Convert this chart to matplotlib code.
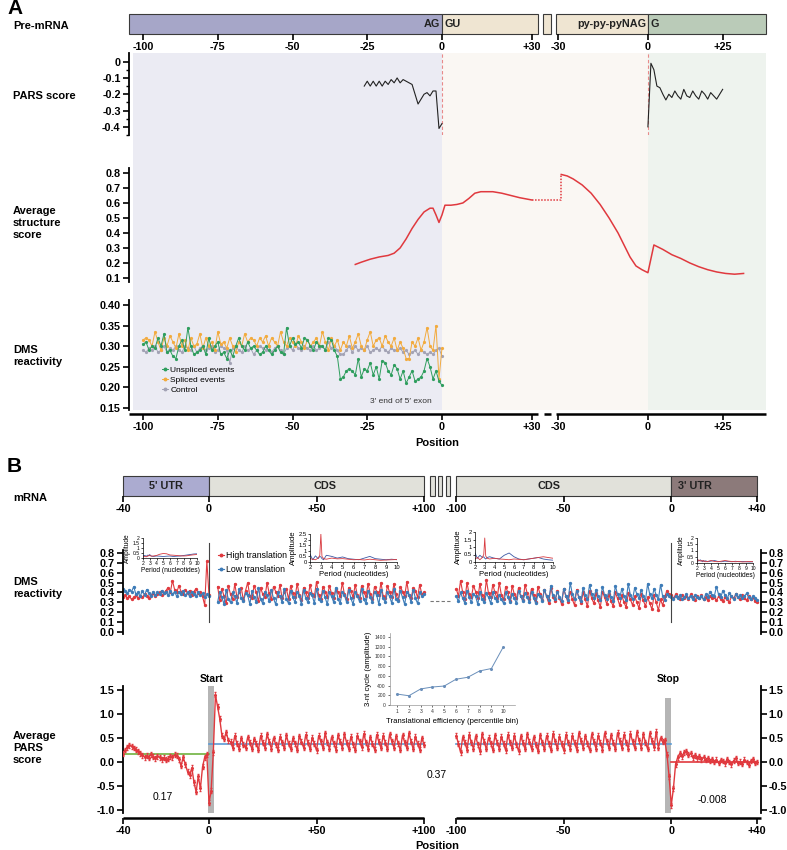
import numpy as np
import matplotlib
matplotlib.use("Agg")
import matplotlib.pyplot as plt
from matplotlib.patches import Rectangle
from matplotlib.lines import Line2D

plt.rcParams['font.family'] = ['Liberation Sans', 'DejaVu Sans']
nan = np.nan

W, H = 787, 850

# ---------------- panel A data ----------------
pars_a_5ss_pos = list(range(-26, 1))
pars_a_5ss = [-0.15, -0.12, -0.15, -0.12, -0.15, -0.12, -0.15, -0.12, -0.14, -0.11,
              -0.13, -0.10, -0.13, -0.11, -0.12, -0.13, -0.14, -0.20, -0.26, -0.23,
              -0.20, -0.19, -0.21, -0.18, -0.18, -0.41, -0.38]
pars_a_3ss_pos = list(range(0, 26))
pars_a_3ss = [-0.40, -0.01, -0.05, -0.15, -0.16, -0.20, -0.235, -0.20, -0.22, -0.18,
              -0.21, -0.23, -0.17, -0.21, -0.22, -0.18, -0.21, -0.23, -0.18, -0.20,
              -0.23, -0.19, -0.21, -0.23, -0.20, -0.17]

struct_5ss_pos = [-29, -27, -24, -21, -18, -16, -14, -12, -10, -8, -6, -4, -3, -2, -1, 0,
                  1, 3, 5, 7, 9, 11, 13, 17, 20, 23, 26, 30]
struct_5ss = [0.19, 0.205, 0.225, 0.24, 0.25, 0.265, 0.30, 0.36, 0.43, 0.49, 0.54, 0.565,
              0.565, 0.52, 0.47, 0.52, 0.585, 0.585, 0.59, 0.60, 0.63, 0.665, 0.675, 0.675,
              0.665, 0.65, 0.635, 0.62]
struct_3ss_pos = [-29, -27, -25, -22, -19, -16, -13, -10, -8, -6, -4, -2, 0,
                  2, 5, 8, 11, 14, 17, 20, 23, 26, 29, 32]
struct_3ss = [0.79, 0.78, 0.76, 0.72, 0.665, 0.59, 0.50, 0.40, 0.32, 0.24, 0.18, 0.155, 0.135,
              0.32, 0.29, 0.255, 0.23, 0.20, 0.175, 0.155, 0.14, 0.13, 0.125, 0.13]

dms_a_pos = list(range(-100, 1))
dms_unspliced = [
    0.305, 0.31, 0.29, 0.30, 0.295, 0.32, 0.30, 0.33, 0.285, 0.29, 0.275, 0.27, 0.30, 0.315, 0.29, 0.345, 0.30, 0.28, 0.285, 0.29,
    0.30, 0.28, 0.32, 0.29, 0.30, 0.31, 0.28, 0.285, 0.27, 0.29, 0.275, 0.30, 0.32, 0.30, 0.29, 0.31, 0.295, 0.30, 0.29, 0.28,
    0.285, 0.30, 0.29, 0.28, 0.29, 0.30, 0.285, 0.28, 0.345, 0.30, 0.32, 0.305, 0.31, 0.295, 0.32, 0.315, 0.30, 0.29, 0.31, 0.30,
    0.30, 0.29, 0.32, 0.315, 0.29, 0.275, 0.22, 0.225, 0.24, 0.245, 0.24, 0.23, 0.27, 0.225, 0.245, 0.24, 0.26, 0.23, 0.25, 0.22,
    0.265, 0.26, 0.24, 0.23, 0.255, 0.245, 0.22, 0.24, 0.21, 0.225, 0.24, 0.215, 0.22, 0.225, 0.24, 0.27, 0.25, 0.22, 0.24, 0.215,
    0.205]
dms_spliced = [
    0.315, 0.32, 0.315, 0.30, 0.335, 0.31, 0.29, 0.32, 0.30, 0.325, 0.31, 0.295, 0.33, 0.30, 0.315, 0.29, 0.32, 0.30, 0.305, 0.33,
    0.295, 0.32, 0.30, 0.31, 0.29, 0.335, 0.305, 0.31, 0.295, 0.32, 0.30, 0.285, 0.31, 0.30, 0.33, 0.31, 0.32, 0.315, 0.30, 0.32,
    0.31, 0.325, 0.30, 0.32, 0.31, 0.30, 0.335, 0.31, 0.30, 0.32, 0.31, 0.30, 0.325, 0.31, 0.295, 0.315, 0.30, 0.31, 0.32, 0.30,
    0.335, 0.31, 0.29, 0.32, 0.30, 0.315, 0.29, 0.31, 0.30, 0.325, 0.295, 0.31, 0.33, 0.30, 0.29, 0.315, 0.335, 0.30, 0.315, 0.32,
    0.30, 0.325, 0.31, 0.30, 0.32, 0.29, 0.31, 0.295, 0.27, 0.27, 0.31, 0.30, 0.32, 0.29, 0.31, 0.345, 0.30, 0.29, 0.35, 0.22,
    0.295]
dms_control = [
    0.29, 0.285, 0.295, 0.29, 0.30, 0.285, 0.29, 0.30, 0.285, 0.295, 0.29, 0.30, 0.29, 0.285, 0.30, 0.295, 0.29, 0.30, 0.285, 0.295,
    0.30, 0.29, 0.295, 0.30, 0.285, 0.29, 0.30, 0.295, 0.29, 0.26, 0.295, 0.30, 0.29, 0.285, 0.30, 0.29, 0.295, 0.28, 0.29, 0.30,
    0.295, 0.29, 0.30, 0.285, 0.295, 0.30, 0.29, 0.28, 0.295, 0.30, 0.29, 0.305, 0.295, 0.29, 0.30, 0.295, 0.29, 0.30, 0.29, 0.295,
    0.30, 0.29, 0.31, 0.295, 0.30, 0.29, 0.28, 0.28, 0.29, 0.30, 0.285, 0.30, 0.29, 0.295, 0.29, 0.30, 0.285, 0.29, 0.295, 0.29,
    0.30, 0.29, 0.285, 0.295, 0.29, 0.29, 0.295, 0.285, 0.29, 0.28, 0.285, 0.29, 0.28, 0.29, 0.285, 0.28, 0.285, 0.28, 0.29, 0.295,
    0.275]

# ---------------- panel B data ----------------
b_start_pos = list(range(-40, 101))
b_stop_pos = list(range(-100, 41))
dms_hi_start = [
    0.35, 0.37, 0.34, 0.36, 0.33, 0.35, 0.37, 0.34, 0.36, 0.35, 0.38, 0.36, 0.34, 0.37, 0.39, 0.36, 0.38, 0.40, 0.37, 0.39,
    0.42, 0.45, 0.40, 0.52, 0.43, 0.40, 0.47, 0.41, 0.38, 0.43, 0.39, 0.42, 0.37, 0.41, 0.44, 0.39, 0.40, 0.36, 0.27, 0.72,
    0.37, nan, nan, nan, 0.46, 0.32, 0.44, 0.36, 0.29, 0.47, 0.38, 0.33, 0.49, 0.35, 0.40, 0.45, 0.32, 0.42, 0.50, 0.36,
    0.34, 0.47, 0.40, 0.31, 0.45, 0.38, 0.35, 0.50, 0.39, 0.33, 0.46, 0.41, 0.36, 0.48, 0.34, 0.40, 0.44, 0.33, 0.47, 0.39,
    0.35, 0.49, 0.37, 0.32, 0.45, 0.40, 0.34, 0.48, 0.38, 0.36, 0.51, 0.37, 0.33, 0.46, 0.41, 0.35, 0.47, 0.39, 0.34, 0.44,
    0.40, 0.36, 0.50, 0.38, 0.33, 0.45, 0.42, 0.35, 0.48, 0.37, 0.34, 0.47, 0.40, 0.36, 0.49, 0.38, 0.33, 0.46, 0.41, 0.37,
    0.50, 0.36, 0.34, 0.47, 0.40, 0.35, 0.49, 0.38, 0.32, 0.46, 0.41, 0.36, 0.51, 0.37, 0.34, 0.45, 0.42, 0.35, 0.48, 0.38,
    0.40]
dms_lo_start = [
    0.44, 0.42, 0.39, 0.43, 0.41, 0.46, 0.38, 0.40, 0.36, 0.42, 0.37, 0.43, 0.39, 0.36, 0.41, 0.37, 0.40, 0.38, 0.42, 0.39,
    0.40, 0.37, 0.42, 0.38, 0.41, 0.36, 0.40, 0.38, 0.42, 0.37, 0.40, 0.36, 0.41, 0.38, 0.36, 0.40, 0.37, 0.39, 0.35, 0.38,
    0.36, nan, nan, nan, 0.30, 0.41, 0.35, 0.28, 0.43, 0.33, 0.30, 0.40, 0.36, 0.29, 0.44, 0.34, 0.31, 0.39, 0.37, 0.28,
    0.42, 0.35, 0.30, 0.45, 0.33, 0.29, 0.41, 0.37, 0.31, 0.43, 0.34, 0.28, 0.40, 0.36, 0.30, 0.44, 0.33, 0.29, 0.42, 0.35,
    0.30, 0.41, 0.36, 0.28, 0.43, 0.34, 0.30, 0.39, 0.37, 0.29, 0.44, 0.33, 0.31, 0.42, 0.35, 0.28, 0.40, 0.36, 0.30, 0.45,
    0.33, 0.29, 0.41, 0.37, 0.30, 0.43, 0.34, 0.28, 0.40, 0.36, 0.31, 0.44, 0.33, 0.29, 0.42, 0.35, 0.30, 0.41, 0.37, 0.28,
    0.43, 0.34, 0.30, 0.40, 0.36, 0.29, 0.44, 0.33, 0.31, 0.42, 0.35, 0.28, 0.41, 0.37, 0.30, 0.43, 0.34, 0.29, 0.40, 0.36,
    0.38]
dms_hi_stop = [
    0.44, 0.36, 0.52, 0.40, 0.33, 0.50, 0.38, 0.35, 0.47, 0.41, 0.34, 0.49, 0.37, 0.33, 0.53, 0.39, 0.35, 0.48, 0.40, 0.34,
    0.50, 0.37, 0.33, 0.46, 0.40, 0.31, 0.47, 0.38, 0.34, 0.45, 0.36, 0.32, 0.48, 0.39, 0.33, 0.44, 0.37, 0.30, 0.46, 0.38,
    0.32, 0.43, 0.36, 0.29, 0.45, 0.35, 0.31, 0.42, 0.34, 0.28, 0.44, 0.36, 0.30, 0.41, 0.33, 0.27, 0.43, 0.35, 0.29, 0.40,
    0.33, 0.26, 0.42, 0.34, 0.29, 0.39, 0.32, 0.25, 0.41, 0.35, 0.28, 0.38, 0.31, 0.26, 0.40, 0.34, 0.27, 0.37, 0.30, 0.25,
    0.39, 0.33, 0.27, 0.36, 0.30, 0.24, 0.38, 0.32, 0.26, 0.35, 0.29, 0.23, 0.37, 0.30, 0.22, 0.33, 0.27, 0.36, 0.42, 0.38,
    0.37, 0.34, 0.38, 0.35, 0.33, 0.37, 0.34, 0.36, 0.33, 0.38, 0.35, 0.32, 0.36, 0.34, 0.37, 0.33, 0.35, 0.32, 0.36, 0.34,
    0.35, 0.32, 0.36, 0.33, 0.31, 0.35, 0.33, 0.30, 0.36, 0.34, 0.38, 0.35, 0.33, 0.37, 0.34, 0.32, 0.36, 0.33, 0.35, 0.31,
    0.30]
dms_lo_stop = [
    0.36, 0.31, 0.40, 0.34, 0.29, 0.42, 0.35, 0.30, 0.38, 0.36, 0.28, 0.41, 0.33, 0.30, 0.39, 0.35, 0.29, 0.40, 0.34, 0.31,
    0.37, 0.33, 0.29, 0.40, 0.35, 0.30, 0.38, 0.34, 0.29, 0.42, 0.36, 0.31, 0.39, 0.35, 0.30, 0.41, 0.34, 0.29, 0.38, 0.36,
    0.31, 0.43, 0.36, 0.32, 0.47, 0.37, 0.33, 0.41, 0.35, 0.31, 0.44, 0.36, 0.32, 0.50, 0.38, 0.33, 0.42, 0.35, 0.31, 0.45,
    0.37, 0.33, 0.48, 0.38, 0.34, 0.43, 0.36, 0.32, 0.46, 0.37, 0.33, 0.42, 0.35, 0.31, 0.47, 0.38, 0.34, 0.44, 0.36, 0.32,
    0.49, 0.37, 0.33, 0.45, 0.38, 0.34, 0.43, 0.36, 0.32, 0.49, 0.38, 0.34, 0.44, 0.37, 0.33, 0.48, 0.36, 0.32, 0.38, 0.36,
    0.35, 0.33, 0.36, 0.34, 0.37, 0.33, 0.35, 0.38, 0.34, 0.36, 0.33, 0.37, 0.35, 0.34, 0.36, 0.33, 0.38, 0.35, 0.41, 0.37,
    0.36, 0.46, 0.38, 0.35, 0.42, 0.37, 0.34, 0.39, 0.36, 0.33, 0.38, 0.35, 0.37, 0.34, 0.36, 0.39, 0.35, 0.33, 0.36, 0.34,
    0.32]
dms_gap_level = 0.31

pars_start = [
    0.17, 0.25, 0.31, 0.35, 0.33, 0.29, 0.26, 0.22, 0.18, 0.14, 0.10, 0.13, 0.09, 0.16, 0.11, 0.08, 0.12, 0.10, 0.06, 0.09,
    0.05, 0.07, 0.12, 0.10, 0.15, 0.13, 0.06, -0.08, 0.10, -0.05, -0.20, -0.28, -0.12, -0.42, -0.62, -0.30, -0.55, -0.10, 0.10, 0.16,
    -0.85, -0.60, 0.20, 1.40, 1.15, 0.90, 0.55, 0.48, 0.62, 0.45, 0.42, 0.30, 0.55, 0.38, 0.28, 0.50, 0.36, 0.30, 0.52, 0.40,
    0.27, 0.48, 0.38, 0.25, 0.55, 0.40, 0.30, 0.58, 0.42, 0.28, 0.50, 0.37, 0.26, 0.53, 0.41, 0.29, 0.56, 0.38, 0.27, 0.49,
    0.39, 0.25, 0.54, 0.42, 0.30, 0.57, 0.40, 0.27, 0.51, 0.38, 0.24, 0.55, 0.43, 0.29, 0.60, 0.41, 0.28, 0.52, 0.39, 0.26,
    0.56, 0.42, 0.30, 0.58, 0.40, 0.27, 0.53, 0.37, 0.25, 0.55, 0.43, 0.31, 0.59, 0.41, 0.28, 0.52, 0.38, 0.26, 0.57, 0.42,
    0.29, 0.55, 0.40, 0.27, 0.58, 0.43, 0.30, 0.54, 0.39, 0.25, 0.56, 0.41, 0.29, 0.60, 0.42, 0.27, 0.53, 0.38, 0.26, 0.50,
    0.36]
pars_stop = [
    0.55, 0.38, 0.20, 0.52, 0.40, 0.26, 0.57, 0.41, 0.28, 0.54, 0.37, 0.22, 0.58, 0.42, 0.27, 0.51, 0.39, 0.25, 0.56, 0.40,
    0.28, 0.53, 0.38, 0.24, 0.57, 0.41, 0.29, 0.55, 0.37, 0.22, 0.54, 0.40, 0.27, 0.58, 0.42, 0.28, 0.52, 0.36, 0.23, 0.56,
    0.41, 0.27, 0.55, 0.39, 0.25, 0.59, 0.43, 0.29, 0.53, 0.38, 0.24, 0.57, 0.41, 0.28, 0.55, 0.40, 0.26, 0.60, 0.44, 0.30,
    0.54, 0.39, 0.25, 0.58, 0.42, 0.28, 0.55, 0.40, 0.26, 0.60, 0.43, 0.29, 0.56, 0.40, 0.27, 0.61, 0.44, 0.30, 0.57, 0.41,
    0.28, 0.59, 0.43, 0.29, 0.62, 0.45, 0.30, 0.58, 0.41, 0.27, 0.60, 0.44, 0.31, 0.63, 0.30, 0.50, 0.42, 0.45, 0.15, -0.30,
    -0.90, -0.55, -0.05, 0.10, 0.18, 0.12, 0.20, 0.22, 0.15, 0.18, 0.10, 0.14, 0.08, 0.12, 0.06, 0.10, 0.04, 0.08, 0.02, 0.06,
    0.00, 0.05, -0.02, 0.04, 0.02, -0.03, 0.06, 0.00, -0.05, 0.03, 0.08, -0.02, 0.01, -0.04, 0.05, 0.00, -0.06, 0.02, 0.06, -0.02,
    0.00]
pars_err = 0.05
mean_5utr, mean_cds, mean_3utr = 0.17, 0.37, -0.008

# amplitude spectra insets (period in nt)
periods = [2.0, 2.25, 2.5, 2.75, 2.9, 3.0, 3.1, 3.25, 3.5, 4.0, 4.5, 5.0, 5.5, 6.0, 6.5, 7.0, 7.5, 8.0, 8.5, 9.0, 9.5, 10.0]
amp_5utr_hi = [0.10, 0.15, 0.12, 0.20, 0.25, 0.28, 0.22, 0.18, 0.20, 0.25, 0.38, 0.45, 0.42, 0.30, 0.28, 0.25, 0.22, 0.20, 0.22, 0.28, 0.32, 0.35]
amp_5utr_lo = [0.20, 0.25, 0.18, 0.30, 0.22, 0.35, 0.25, 0.20, 0.15, 0.20, 0.18, 0.15, 0.18, 0.20, 0.15, 0.18, 0.20, 0.25, 0.30, 0.35, 0.40, 0.42]
amp_cds1_hi = [0.30, 0.25, 0.20, 0.35, 0.60, 2.50, 0.50, 0.30, 0.25, 0.35, 0.28, 0.30, 0.25, 0.20, 0.22, 0.18, 0.25, 0.20, 0.15, 0.18, 0.20, 0.22]
amp_cds1_lo = [0.70, 0.20, 0.55, 0.30, 0.50, 0.45, 0.30, 0.20, 0.60, 0.50, 0.35, 0.45, 0.30, 0.25, 0.20, 0.35, 0.50, 0.30, 0.25, 0.20, 0.25, 0.20]
amp_cds2_hi = [0.20, 0.30, 0.15, 0.30, 0.50, 1.60, 0.40, 0.25, 0.20, 0.25, 0.20, 0.18, 0.15, 0.20, 0.18, 0.15, 0.20, 0.25, 0.30, 0.35, 0.30, 0.25]
amp_cds2_lo = [0.60, 0.25, 0.45, 0.30, 0.35, 0.25, 0.20, 0.30, 0.35, 0.25, 0.20, 0.45, 0.60, 0.35, 0.20, 0.15, 0.20, 0.25, 0.30, 0.20, 0.15, 0.12]
amp_3utr_hi = [0.10, 0.25, 0.15, 0.20, 0.12, 0.18, 0.15, 0.10, 0.12, 0.20, 0.12, 0.10, 0.15, 0.20, 0.15, 0.12, 0.10, 0.12, 0.08, 0.10, 0.12, 0.10]
amp_3utr_lo = [0.30, 0.15, 0.25, 0.10, 0.20, 0.15, 0.12, 0.18, 0.10, 0.15, 0.20, 0.12, 0.10, 0.15, 0.12, 0.10, 0.14, 0.10, 0.12, 0.10, 0.08, 0.10]

te_bins = list(range(1, 11))
cycle_amp = [225, 190, 330, 370, 390, 530, 570, 700, 750, 1190]

# ---------------- layout helpers ----------------
RED = '#e0393e'
BLUE = '#3e7cb8'
fig = plt.figure(figsize=(W / 100, H / 100), dpi=100)


def add_ax(x0, y0, x1, y1):
    return fig.add_axes([x0 / W, 1 - y1 / H, (x1 - x0) / W, (y1 - y0) / H])


def row_label(y, text):
    fig.text(13 / W, 1 - y / H, text, fontsize=8, fontweight='bold', va='center', ha='left', linespacing=1.25)


def style_y(ax, ticks, labels, right=False):
    ax.set_facecolor('none')
    for s in ['top', 'bottom', 'right', 'left']:
        ax.spines[s].set_visible(False)
    ax.spines['left'].set_visible(True)
    ax.spines['left'].set_linewidth(1.3)
    if right:
        ax.spines['right'].set_visible(True)
        ax.spines['right'].set_linewidth(1.3)
    ax.set_xticks([])
    ax.set_yticks(ticks)
    ax.set_yticklabels(labels, fontweight='bold', fontsize=7.8)
    ax.tick_params(axis='y', length=4, width=1.2, pad=2, right=right, labelright=right)


def draw_bar(ax, lim, segs, texts, ticks, labels):
    ax.set_xlim(lim)
    ax.set_ylim(0, 1)
    for s in ax.spines.values():
        s.set_visible(False)
    ax.set_yticks([])
    for u0, u1, col in segs:
        ax.add_patch(Rectangle((u0, 0), u1 - u0, 1, facecolor=col, edgecolor='#3a3a3a', lw=0.8, clip_on=False))
    for u, txt, ha in texts:
        ax.text(u, 0.5, txt, ha=ha, va='center', fontsize=7.8, fontweight='bold', color='#222222')
    ax.set_xticks(ticks)
    ax.set_xticklabels(labels, fontweight='bold', fontsize=7.8)
    ax.tick_params(axis='x', length=4, width=1.2, pad=2)


def broken_axis(ax, lim, segs, ticks, labels):
    ax.set_xlim(lim)
    ax.set_ylim(0, 1)
    ax.patch.set_visible(False)
    for s in ax.spines.values():
        s.set_visible(False)
    ax.set_yticks([])
    for a, b in segs:
        ax.plot([a, b], [0, 0], color='black', lw=1.8, clip_on=False, solid_capstyle='butt')
    ax.set_xticks(ticks)
    ax.set_xticklabels(labels, fontweight='bold', fontsize=7.8)
    ax.tick_params(axis='x', length=4, width=1.2, pad=2)


# ================= PANEL A =================
A_LIM = (-104.7, 108.4)   # track units, 0 = 5' splice site
A_OFF = 68.9              # shift of the 3' splice-site segment
A_X = (129, 766)
fig.text(7 / W, 1 - 8 / H, 'A', fontsize=15, fontweight='bold', va='center')

a_ticks = [-100, -75, -50, -25, 0, 30, -30 + A_OFF, A_OFF, 25 + A_OFF]
a_labels = ['-100', '-75', '-50', '-25', '0', '+30', '-30', '0', '+25']

ax_bar = add_ax(A_X[0], 14, A_X[1], 34)
draw_bar(ax_bar, A_LIM,
         [(A_LIM[0], 0, '#a6a6c8'), (0, 32, '#efe5d2'), (33.8, 36.5, '#efe5d2'),
          (38.1, A_OFF, '#efe5d2'), (A_OFF, A_LIM[1], '#bacbb8')],
         [(-0.6, 'AG', 'right'), (0.8, 'GU', 'left'), (A_OFF - 0.6, 'py-py-pyNAG', 'right'), (A_OFF + 0.8, 'G', 'left')],
         a_ticks, a_labels)
row_label(26, 'Pre-mRNA')

ax_bg = add_ax(A_X[0], 53, A_X[1], 410)
ax_bg.set_xlim(A_LIM)
ax_bg.axis('off')
ax_bg.axvspan(-103.3, 0, color='#ebebf3', lw=0)
ax_bg.axvspan(0, A_OFF, color='#faf7f3', lw=0)
ax_bg.axvspan(A_OFF, A_LIM[1], color='#eef3ee', lw=0)

# PARS score
ax_p = add_ax(A_X[0], 53, A_X[1], 135)
ax_p.set_xlim(A_LIM)
ax_p.set_ylim(-0.43, 0.053)
style_y(ax_p, [0, -0.1, -0.2, -0.3, -0.4], ['0', '-0.1', '-0.2', '-0.3', '-0.4'])
ax_p.set_yticks(np.arange(-0.45, 0.05, 0.05), minor=True)
ax_p.tick_params(axis='y', which='minor', length=2.5, width=1)
ax_p.axvline(0, color='#e88a8a', ls=(0, (3, 2)), lw=0.8)
ax_p.axvline(A_OFF, color='#e88a8a', ls=(0, (3, 2)), lw=0.8)
ax_p.plot(pars_a_5ss_pos, pars_a_5ss, color='#222222', lw=0.8)
ax_p.plot(np.array(pars_a_3ss_pos) + A_OFF, pars_a_3ss, color='#222222', lw=0.8)
row_label(96, 'PARS score')

# average structure score
ax_s = add_ax(A_X[0], 168, A_X[1], 282)
ax_s.set_xlim(A_LIM)
ax_s.set_ylim(0.073, 0.833)
style_y(ax_s, [0.1, 0.2, 0.3, 0.4, 0.5, 0.6, 0.7, 0.8], ['0.1', '0.2', '0.3', '0.4', '0.5', '0.6', '0.7', '0.8'])
u_3ss = np.array(struct_3ss_pos) + A_OFF
ax_s.plot(struct_5ss_pos, struct_5ss, color=RED, lw=1.1)
ax_s.plot(u_3ss, struct_3ss, color=RED, lw=1.1)
ax_s.plot([struct_5ss_pos[-1], u_3ss[0], u_3ss[0]], [struct_5ss[-1], struct_5ss[-1], struct_3ss[0]],
          color=RED, lw=1.1, ls=(0, (1, 1)))
row_label(223, 'Average\nstructure\nscore')

# DMS reactivity
ax_d = add_ax(A_X[0], 300, A_X[1], 410)
ax_d.set_xlim(A_LIM)
ax_d.set_ylim(0.145, 0.412)
style_y(ax_d, [0.15, 0.20, 0.25, 0.30, 0.35, 0.40], ['0.15', '0.20', '0.25', '0.30', '0.35', '0.40'])
ax_d.plot(dms_a_pos, dms_control, color='#a3a3b5', lw=0.7, marker='o', ms=1.3)
ax_d.plot(dms_a_pos, dms_spliced, color='#f2ab3e', lw=0.7, marker='o', ms=1.3)
ax_d.plot(dms_a_pos, dms_unspliced, color='#2f9e5e', lw=0.7, marker='o', ms=1.3)
ax_d.text(-3.5, 0.165, '3\u2032 end of 5\u2032 exon', fontsize=6, ha='right', va='center', color='#333333')
hA = [Line2D([], [], color=c, marker='o', ms=1.8, lw=0.7) for c in ['#2f9e5e', '#f2ab3e', '#a3a3b5']]
fig.legend(hA, ['Unspliced events', 'Spliced events', 'Control'], loc='upper left',
           bbox_to_anchor=(158 / W, 1 - 362 / H), frameon=False, fontsize=6, handlelength=0.7,
           handletextpad=0.3, labelspacing=0.25, borderpad=0)
row_label(356, 'DMS\nreactivity')

ax_xa = add_ax(A_X[0], 404, A_X[1], 414)
broken_axis(ax_xa, A_LIM, [(A_LIM[0], 32), (34, 36.5), (38.1, A_LIM[1])], a_ticks, a_labels)
fig.text(437 / W, 1 - 443 / H, 'Position', fontsize=8, fontweight='bold', ha='center', va='center')

# ================= PANEL B =================
B_LIM = (-40, 256.5)   # track units, 0 = start codon
B_OFF = 215            # shift of the stop-codon segment
B_X = (123, 760.5)
fig.text(7 / W, 1 - 466 / H, 'B', fontsize=15, fontweight='bold', va='center')

b_ticks = [-40, 0, 50, 100, -100 + B_OFF, -50 + B_OFF, B_OFF, 40 + B_OFF]
b_labels = ['-40', '0', '+50', '+100', '-100', '-50', '0', '+40']

ax_mb = add_ax(B_X[0], 476, B_X[1], 496)
draw_bar(ax_mb, B_LIM,
         [(-40, 0, '#ababd0'), (0, 100, '#e1e1da'), (103, 105, '#e1e1da'), (106.5, 108.5, '#e1e1da'),
          (110, 112, '#e1e1da'), (-100 + B_OFF, B_OFF, '#e1e1da'), (B_OFF, 40 + B_OFF, '#8c7a7a')],
         [(-20, "5' UTR", 'center'), (54, 'CDS', 'center'), (-57 + B_OFF, 'CDS', 'center'), (3 + B_OFF, "3' UTR", 'left')],
         b_ticks, b_labels)
row_label(498, 'mRNA')

# DMS reactivity (translation)
ax_bd = add_ax(B_X[0], 550, B_X[1], 634)
ax_bd.set_xlim(B_LIM)
ax_bd.set_ylim(-0.02, 0.83)
dms_ticks = [0.0, 0.1, 0.2, 0.3, 0.4, 0.5, 0.6, 0.7, 0.8]
style_y(ax_bd, dms_ticks, ['%.1f' % t for t in dms_ticks], right=True)
u_stop = np.array(b_stop_pos) + B_OFF
ax_bd.plot(b_start_pos, dms_hi_start, color=RED, lw=0.8, marker='o', ms=1.4)
ax_bd.plot(b_start_pos, dms_lo_start, color=BLUE, lw=0.8, marker='o', ms=1.4)
ax_bd.plot(u_stop, dms_hi_stop, color=RED, lw=0.8, marker='o', ms=1.4)
ax_bd.plot(u_stop, dms_lo_stop, color=BLUE, lw=0.8, marker='o', ms=1.4)
ax_bd.plot([b_start_pos[-1] + 3, u_stop[0] - 3], [dms_gap_level, dms_gap_level], color='#777777', lw=0.8,
           ls=(0, (3, 2)))
ax_bd.plot([0, 0], [0.1, 0.9], color='#444444', lw=0.8, clip_on=False)
ax_bd.plot([B_OFF, B_OFF], [0.1, 0.9], color='#444444', lw=0.8, clip_on=False)
hB = [Line2D([], [], color=c, marker='o', ms=1.8, lw=0.8) for c in [RED, BLUE]]
fig.legend(hB, ['High translation', 'Low translation'], loc='upper left', bbox_to_anchor=(214 / W, 1 - 547 / H),
           frameon=False, fontsize=6.3, handlelength=0.6, handletextpad=0.3, labelspacing=0.5, borderpad=0)
row_label(588, 'DMS\nreactivity')


def spectrum_inset(x0, y0, x1, y1, hi, lo, ymax, yticks, fs):
    ax = add_ax(x0, y0, x1, y1)
    ax.patch.set_visible(False)
    ax.plot(periods, lo, color='#3b58a5', lw=0.6)
    ax.plot(periods, hi, color='#d83a3f', lw=0.6)
    ax.set_xlim(2, 10)
    ax.set_ylim(0, ymax)
    ax.set_xticks(range(2, 11))
    ax.set_yticks(yticks)
    ax.set_yticklabels([('%g' % t) for t in yticks])
    for s in ['top', 'right']:
        ax.spines[s].set_visible(False)
    for s in ['left', 'bottom']:
        ax.spines[s].set_linewidth(0.5)
    ax.tick_params(labelsize=fs * 0.75, length=1.5, width=0.5, pad=0.8)
    ax.set_ylabel('Amplitude', fontsize=fs, labelpad=1)
    ax.set_xlabel('Period (nucleotides)', fontsize=fs, labelpad=0.5)
    return ax


spectrum_inset(143, 538, 197, 558, amp_5utr_hi, amp_5utr_lo, 2, [0, 0.5, 1, 1.5, 2], 4.8)
spectrum_inset(310, 534, 397, 562, amp_cds1_hi, amp_cds1_lo, 2.5, [0, 0.5, 1, 1.5, 2, 2.5], 5.6)
spectrum_inset(475, 532, 553, 562, amp_cds2_hi, amp_cds2_lo, 2, [0, 0.5, 1, 1.5, 2], 5.6)
spectrum_inset(697, 538, 753, 563, amp_3utr_hi, amp_3utr_lo, 2, [0, 0.5, 1, 1.5, 2], 4.8)

# 3-nt cycle vs translational efficiency
ax_te = add_ax(390, 633, 515, 705)
ax_te.patch.set_visible(False)
ax_te.plot(te_bins, cycle_amp, color='#6a8fba', lw=0.7, marker='o', ms=1.2)
ax_te.set_xlim(0.4, 11)
ax_te.set_ylim(0, 1480)
ax_te.set_xticks(te_bins)
ax_te.set_yticks(range(0, 1401, 200))
for s in ['top', 'right']:
    ax_te.spines[s].set_visible(False)
for s in ['left', 'bottom']:
    ax_te.spines[s].set_linewidth(0.5)
    ax_te.spines[s].set_color('#999999')
ax_te.tick_params(labelsize=3.6, length=1.5, width=0.5, pad=1.5, colors='#333333')
ax_te.set_ylabel('3-nt cycle (amplitude)', fontsize=5.6, labelpad=2)
ax_te.set_xlabel('Translational efficiency (percentile bin)', fontsize=5.6, labelpad=3)

# average PARS score
ax_bp = add_ax(B_X[0], 686, B_X[1], 813)
ax_bp.set_xlim(B_LIM)
ax_bp.set_ylim(-1.0625, 1.583)
pt = [-1.0, -0.5, 0.0, 0.5, 1.0, 1.5]
style_y(ax_bp, pt, ['%.1f' % t for t in pt], right=True)
ax_bp.bar(1, 2.65, width=3, bottom=-1.06, color='#b5b5b5', zorder=0)
ax_bp.bar(-1.5 + B_OFF, 2.4, width=3, bottom=-1.06, color='#b5b5b5', zorder=0)
ax_bp.text(1, 1.72, 'Start', fontsize=7.5, fontweight='bold', ha='center', va='center', clip_on=False)
ax_bp.text(-1.5 + B_OFF, 1.72, 'Stop', fontsize=7.5, fontweight='bold', ha='center', va='center', clip_on=False)
ax_bp.errorbar(b_start_pos, pars_start, yerr=pars_err, color=RED, lw=1.0, marker='o', ms=1.2,
               elinewidth=0.6, capsize=1.0, zorder=3)
ax_bp.errorbar(u_stop, pars_stop, yerr=pars_err, color=RED, lw=1.0, marker='o', ms=1.2,
               elinewidth=0.6, capsize=1.0, zorder=3)
ax_bp.plot([-40, 0], [mean_5utr, mean_5utr], color='#6fb33f', lw=1.2, zorder=2)
ax_bp.plot([0, 100], [mean_cds, mean_cds], color='#5b9bd5', lw=1.2, zorder=2)
ax_bp.plot([-100 + B_OFF, B_OFF], [mean_cds, mean_cds], color='#5b9bd5', lw=1.2, zorder=2)
ax_bp.plot([B_OFF, 40 + B_OFF], [mean_3utr, mean_3utr], color=RED, lw=1.2, zorder=4)
ax_bp.text(-21.5, -0.72, '%.2f' % mean_5utr, fontsize=7.5, ha='center', va='center')
ax_bp.text(106, -0.27, '%.2f' % mean_cds, fontsize=7.5, ha='center', va='center')
ax_bp.text(234, -0.79, '%.3f' % mean_3utr, fontsize=7.5, ha='center', va='center')
row_label(748, 'Average\nPARS\nscore')

ax_xb = add_ax(B_X[0], 808, B_X[1], 818)
broken_axis(ax_xb, B_LIM, [(-40, 100), (-100 + B_OFF, B_LIM[1])], b_ticks, b_labels)
fig.text(437 / W, 1 - 846 / H, 'Position', fontsize=8, fontweight='bold', ha='center', va='center')

fig.savefig('out.png', dpi=100)
